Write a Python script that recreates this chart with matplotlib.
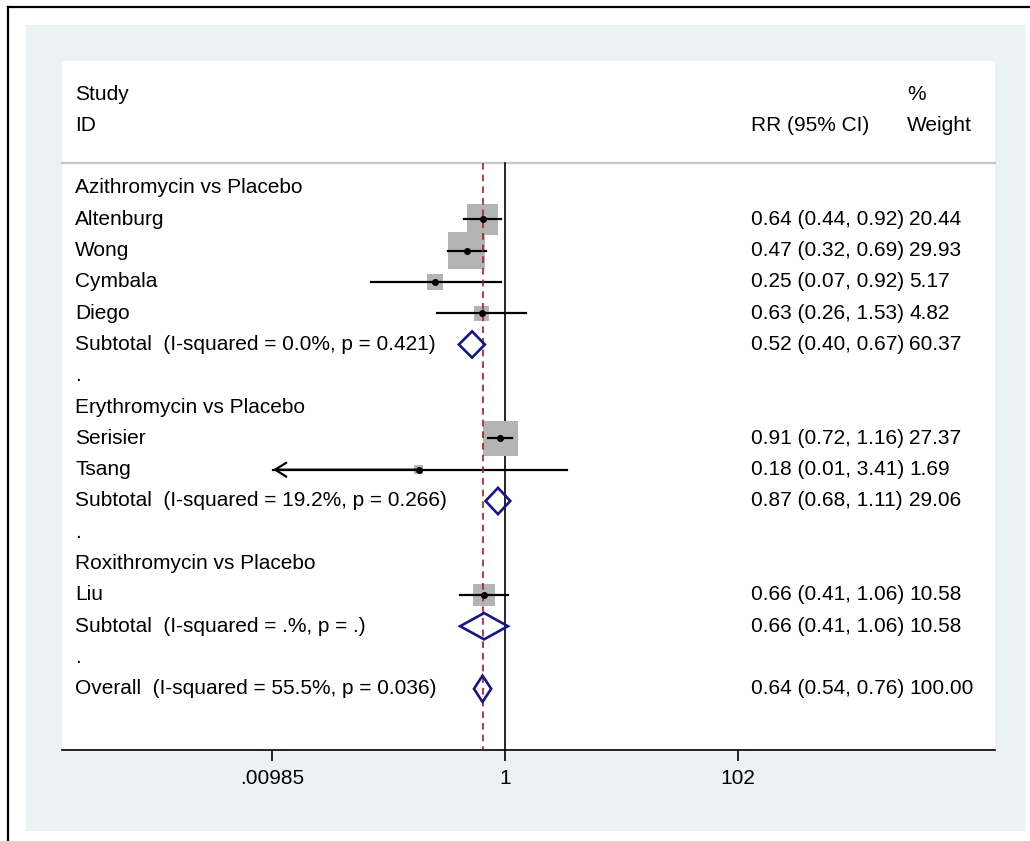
import matplotlib.pyplot as plt
import numpy as np
from matplotlib.patches import Rectangle, Polygon
from matplotlib.lines import Line2D
import matplotlib.transforms as mtransforms

plt.rcParams['font.family'] = ['Liberation Sans', 'DejaVu Sans']

# Datos
labels = ["Azithromycin vs Placebo", "Altenburg", "Wong", "Cymbala", "Diego",
          "Subtotal  (I-squared = 0.0%, p = 0.421)", ".",
          "Erythromycin vs Placebo", "Serisier", "Tsang",
          "Subtotal  (I-squared = 19.2%, p = 0.266)", ".",
          "Roxithromycin vs Placebo", "Liu",
          "Subtotal  (I-squared = .%, p = .)", ".",
          "Overall  (I-squared = 55.5%, p = 0.036)"]
kinds = ["head", "study", "study", "study", "study", "pool", "blank",
         "head", "study", "study", "pool", "blank",
         "head", "study", "pool", "blank", "pool"]
rr = [None, 0.64, 0.47, 0.25, 0.63, 0.52, None,
      None, 0.91, 0.18, 0.87, None,
      None, 0.66, 0.66, None, 0.64]
ci_lo = [None, 0.44, 0.32, 0.07, 0.26, 0.40, None,
         None, 0.72, 0.01, 0.68, None,
         None, 0.41, 0.41, None, 0.54]
ci_hi = [None, 0.92, 0.69, 0.92, 1.53, 0.67, None,
         None, 1.16, 3.41, 1.11, None,
         None, 1.06, 1.06, None, 0.76]
weight = [None, 20.44, 29.93, 5.17, 4.82, 60.37, None,
          None, 27.37, 1.69, 29.06, None,
          None, 10.58, 10.58, None, 100.00]
overall_rr = 0.64
xticks = [0.00985, 1, 102]
xticklabels = [".00985", "1", "102"]

W, H = 1030, 841
fig = plt.figure(figsize=(W / 100, H / 100), dpi=100)
fig.patch.set_facecolor('white')

# fondo tipo Stata y marco negro
fig.add_artist(Rectangle((26 / W, 1 - 831 / H), (1025 - 26) / W, (831 - 25) / H,
                         transform=fig.transFigure, facecolor='#eaf2f3',
                         edgecolor='none', zorder=0))
fig.add_artist(Line2D([8 / W, 1], [1 - 7 / H, 1 - 7 / H], color='black', lw=1.6,
                      transform=fig.transFigure))
fig.add_artist(Line2D([8 / W, 8 / W], [0, 1 - 7 / H], color='black', lw=1.6,
                      transform=fig.transFigure))

ax = fig.add_axes([62 / W, 1 - 750 / H, (995 - 62) / W, (750 - 61) / H])
ax.set_facecolor('white')
ax.set_xscale('log')
ppl = 50.36  # pixeles por unidad ln
ax.set_xlim(np.exp((62 - 505) / ppl), np.exp((995 - 505) / ppl))
row_px = 31.3
ax.set_ylim((750 - 188) / row_px, (61 - 188) / row_px)

for s in ['top', 'right', 'left']:
    ax.spines[s].set_visible(False)
ax.spines['bottom'].set_linewidth(1.2)
ax.set_yticks([])
ax.set_xticks(xticks)
ax.set_xticklabels(xticklabels, fontsize=15)
ax.xaxis.set_minor_locator(plt.NullLocator())
ax.tick_params(axis='x', direction='out', length=8, width=1.2, pad=6)

tr = mtransforms.blended_transform_factory(ax.transAxes, ax.transData)
fs = 15
line_top = (163 - 188) / row_px

# encabezado
ax.text(0.014, -3.0, "Study", transform=tr, fontsize=fs, va='center')
ax.text(0.014, -2.0, "ID", transform=tr, fontsize=fs, va='center')
ax.text(0.7385, -2.0, "RR (95% CI)", transform=tr, fontsize=fs, va='center')
ax.text(0.9057, -3.0, "%", transform=tr, fontsize=fs, va='center')
ax.text(0.9057, -2.0, "Weight", transform=tr, fontsize=fs, va='center')
ax.plot([0, 1], [line_top, line_top], transform=tr, color='#c8c8c8', lw=1.6,
        clip_on=False)

# lineas verticales
ax.plot([1, 1], [line_top, 18], color='black', lw=1.2, zorder=2)
ax.plot([overall_rr, overall_rr], [line_top, 18], color='#a81c2c', lw=1.2,
        ls=(0, (4, 3)), zorder=5)

axis_min = xticks[0]
for i, lab in enumerate(labels):
    ax.text(0.014, i, lab, transform=tr, fontsize=fs, va='center')
    if rr[i] is None:
        continue
    ax.text(0.7385, i, f"{rr[i]:.2f} ({ci_lo[i]:.2f}, {ci_hi[i]:.2f})",
            transform=tr, fontsize=fs, va='center')
    ax.text(0.9080, i, f"{weight[i]:.2f}", transform=tr, fontsize=fs, va='center')
    if kinds[i] == 'study':
        side_pt = 37 * np.sqrt(weight[i] / 29.93) * 0.72
        ax.scatter([rr[i]], [i], marker='s', s=side_pt ** 2, color='#b4b4b4',
                   edgecolors='none', zorder=3)
        ax.plot([ci_lo[i], ci_hi[i]], [i, i], color='black', lw=1.6, zorder=4)
        if ci_lo[i] < axis_min * 1.1:
            ax.annotate('', xy=(ci_lo[i], i), xytext=(rr[i], i),
                        arrowprops=dict(arrowstyle='->,head_length=0.4,head_width=0.25',
                                        lw=1.6, color='black', mutation_scale=20,
                                        shrinkA=0, shrinkB=0), zorder=4)
        ax.plot([rr[i]], [i], 'o', color='black', ms=4, zorder=6)
    else:
        h = 0.42
        ax.add_patch(Polygon([(ci_lo[i], i), (rr[i], i - h), (ci_hi[i], i), (rr[i], i + h)],
                             closed=True, fill=False, edgecolor='#16168a', lw=1.9,
                             zorder=6))

fig.savefig('out.png', dpi=100, facecolor=fig.get_facecolor())
